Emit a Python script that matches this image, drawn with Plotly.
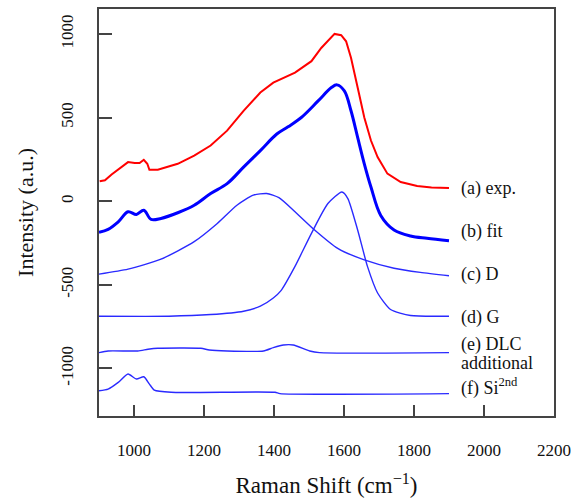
import plotly.graph_objects as go

# (a) experimental spectrum
exp_x = [902, 917, 936, 959, 983, 1002, 1016, 1028, 1038, 1044, 1068, 1125, 1172, 1219, 1266, 1313,
         1361, 1398, 1427, 1460, 1507, 1535, 1573, 1592, 1606, 1620, 1639, 1658, 1677, 1696, 1724,
         1762, 1809, 1850, 1900]
exp_y = [119, 125, 160, 194, 234, 228, 228, 248, 224, 188, 188, 224, 273, 333, 422, 541,
         650, 709, 739, 769, 838, 917, 1001, 993, 957, 858, 680, 501, 363, 264, 165,
         115, 91, 82, 79]

# (b) fit
fit_x = [900, 926, 955, 983, 1007, 1028, 1049, 1077, 1125, 1172, 1219, 1266, 1313, 1361, 1408, 1440,
         1478, 1526, 1564, 1580, 1601, 1620, 1639, 1658, 1677, 1705, 1743, 1790, 1837, 1900]
fit_y = [-186, -168, -123, -63, -79, -54, -109, -103, -69, -24, 46, 105, 204, 303, 402, 445,
         501, 600, 680, 696, 660, 541, 382, 224, 85, -85, -172, -208, -222, -236]

# (c) D band
d_x = [900, 983, 1077, 1172, 1238, 1294, 1341, 1379, 1414, 1460, 1516, 1582, 1658, 1743, 1818, 1900]
d_y = [-436, -406, -347, -242, -133, -24, 36, 46, 21, -63, -172, -282, -351, -401, -426, -446]

# (d) G band
g_x = [900, 1100, 1219, 1313, 1361, 1398, 1420, 1460, 1507, 1554, 1594, 1611, 1639, 1667, 1696,
       1733, 1790, 1900]
g_y = [-688, -688, -678, -658, -628, -579, -535, -390, -192, -14, 55, 16, -172, -390, -549,
       -648, -684, -688]

# (e) DLC additional
dlc_x = [900, 926, 1011, 1040, 1068, 1191, 1215, 1266, 1370, 1398, 1427, 1455, 1502, 1530, 1900]
dlc_y = [-906, -896, -896, -886, -880, -880, -890, -896, -896, -876, -860, -860, -896, -906, -906]

# (f) Si second order
si_x = [900, 926, 955, 983, 1007, 1028, 1044, 1058, 1106, 1403, 1417, 1900]
si_y = [-1134, -1124, -1084, -1034, -1064, -1050, -1094, -1130, -1143, -1143, -1151, -1151]

labels = ["(a) exp.", "(b) fit", "(c) D", "(d) G", "(e) DLC", "additional", "(f) Si<sup>2nd</sup>"]
label_y = [77, -184, -440, -696, -860, -970, -1112]

x_ticks = [1000, 1200, 1400, 1600, 1800, 2000, 2200]
y_ticks = [-1000, -500, 0, 500, 1000]
y_tick_text = ["-1000", "-500", "0", "500", "1000"]

serif = "Liberation Serif"
fig = go.Figure()
fig.add_trace(go.Scatter(x=exp_x, y=exp_y, mode="lines", line=dict(color="#ff0000", width=2)))
fig.add_trace(go.Scatter(x=fit_x, y=fit_y, mode="lines", line=dict(color="#0000ff", width=3, shape="spline")))
for xs, ys in [(d_x, d_y), (g_x, g_y), (dlc_x, dlc_y), (si_x, si_y)]:
    fig.add_trace(go.Scatter(x=xs, y=ys, mode="lines",
                             line=dict(color="#2a2aff", width=1.4, shape="spline", smoothing=0.6)))

for t, yv in zip(labels, label_y):
    fig.add_annotation(x=1928, y=yv, xref="x", yref="y", text=t, showarrow=False,
                       xanchor="left", yanchor="middle",
                       font=dict(family=serif, size=18, color="#111"))

fig.update_layout(
    width=578, height=504,
    margin=dict(l=99, r=20, t=7, b=88),
    paper_bgcolor="white", plot_bgcolor="white",
    showlegend=False,
    font=dict(family=serif, color="#111"),
)
fig.update_xaxes(
    range=[900, 2200], tickvals=x_ticks, ticks="inside", ticklen=11, tickwidth=1.5,
    tickcolor="#444", showline=True, linecolor="#444", linewidth=1.5, mirror=True,
    showgrid=False, zeroline=False, ticklabelstandoff=18,
    tickfont=dict(family=serif, size=17, color="#111"),
    title=dict(text="Raman Shift (cm<sup>−1</sup>)", font=dict(family=serif, size=23, color="#111"),
               standoff=18),
)
fig.update_yaxes(
    range=[-1285, 1150], tickvals=y_ticks, ticktext=y_tick_text, ticks="inside", ticklen=13,
    tickwidth=1.5, tickcolor="#444", showline=True, linecolor="#444", linewidth=1.5, mirror=True,
    showgrid=False, zeroline=False, tickangle=-90, ticklabelstandoff=17,
    tickfont=dict(family=serif, size=17, color="#111"),
    title=dict(text="Intensity (a.u.)", font=dict(family=serif, size=22, color="#111"),
               standoff=19),
)
fig.write_html("out.html")
